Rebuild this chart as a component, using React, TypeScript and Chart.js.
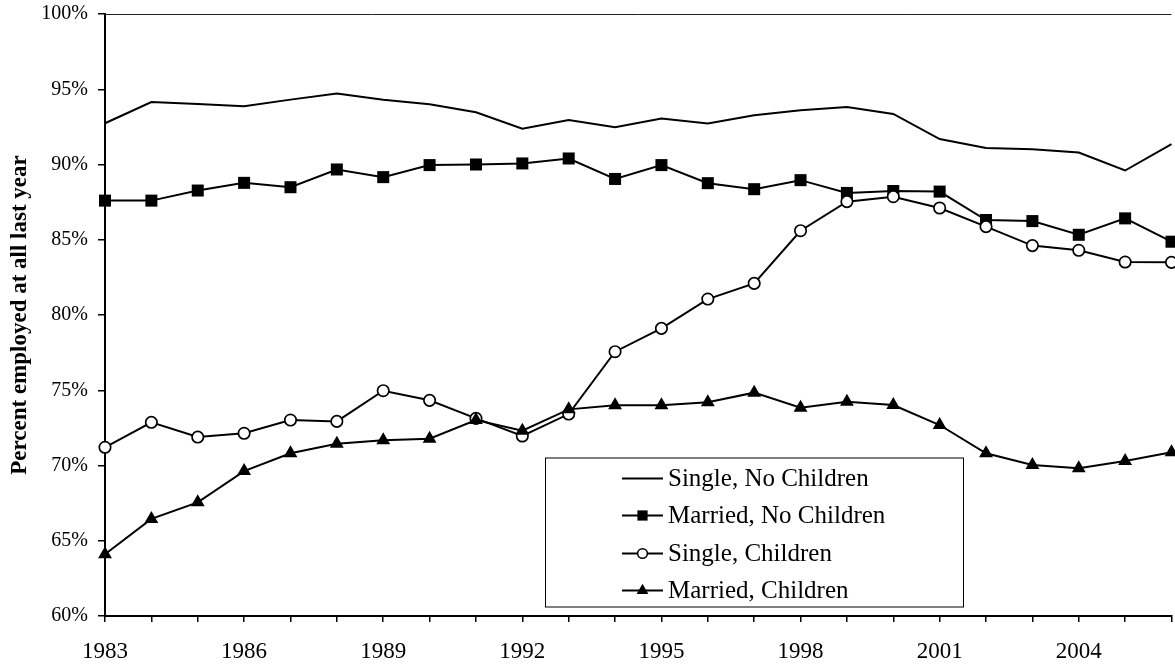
import React, { useEffect, useRef } from 'react';
import { Chart, registerables } from 'chart.js';

Chart.register(...registerables);

const years = [1983, 1984, 1985, 1986, 1987, 1988, 1989, 1990, 1991, 1992, 1993, 1994, 1995, 1996, 1997, 1998, 1999, 2000, 2001, 2002, 2003, 2004, 2005, 2006];

const singleNoChildren = [92.74, 94.15, 94.02, 93.87, 94.31, 94.71, 94.31, 94.0, 93.47, 92.38, 92.95, 92.47, 93.05, 92.73, 93.27, 93.6, 93.82, 93.36, 91.69, 91.09, 91.02, 90.8, 89.6, 91.35];
const marriedNoChildren = [87.6, 87.6, 88.27, 88.78, 88.49, 89.67, 89.16, 89.96, 90.0, 90.07, 90.4, 89.04, 89.96, 88.76, 88.36, 88.96, 88.11, 88.24, 88.2, 86.31, 86.24, 85.33, 86.42, 84.87];
const singleChildren = [71.21, 72.87, 71.89, 72.14, 73.02, 72.93, 74.97, 74.33, 73.13, 71.96, 73.42, 77.56, 79.11, 81.06, 82.1, 85.6, 87.53, 87.86, 87.11, 85.87, 84.61, 84.3, 83.52, 83.5];
const marriedChildren = [64.1, 66.45, 67.55, 69.63, 70.81, 71.45, 71.67, 71.78, 73.02, 72.31, 73.73, 74.0, 74.0, 74.2, 74.84, 73.84, 74.24, 74.02, 72.69, 70.81, 70.03, 69.81, 70.3, 70.88];

const seriesLabels = ['Single, No Children', 'Married, No Children', 'Single, Children', 'Married, Children'];
const yAxisTitle = 'Percent employed at all last year';
const xMin = 1983;
const xMax = 2006;
const xLabelStep = 3;
const yMin = 60;
const yMax = 100;
const yStep = 5;

const SERIF = '"Liberation Serif", "Times New Roman", Times, serif';
const LINE_W = 2;

type Marker = { style: string; radius: number; fill: string };
const markers: Marker[] = [
  { style: 'none', radius: 0, fill: '#000' },
  { style: 'rect', radius: 8.5, fill: '#000' },
  { style: 'circle', radius: 5.7, fill: '#fff' },
  { style: 'triangle', radius: 8, fill: '#000' },
];

function drawMarker(ctx: CanvasRenderingContext2D, m: Marker, x: number, y: number, scale: number) {
  const r = m.radius * scale;
  if (m.style === 'none') return;
  ctx.save();
  ctx.fillStyle = m.fill;
  ctx.strokeStyle = '#000';
  ctx.lineWidth = 1.5;
  ctx.beginPath();
  if (m.style === 'rect') {
    const s = r * Math.SQRT1_2;
    ctx.rect(x - s, y - s, 2 * s, 2 * s);
    ctx.fill();
  } else if (m.style === 'circle') {
    ctx.arc(x, y, r, 0, Math.PI * 2);
    ctx.fill();
    ctx.stroke();
  } else if (m.style === 'triangle') {
    let rad = 0;
    ctx.moveTo(x + Math.sin(rad) * r, y - Math.cos(rad) * r);
    rad += (2 * Math.PI) / 3;
    ctx.lineTo(x + Math.sin(rad) * r, y - Math.cos(rad) * r);
    rad += (2 * Math.PI) / 3;
    ctx.lineTo(x + Math.sin(rad) * r, y - Math.cos(rad) * r);
    ctx.closePath();
    ctx.fill();
  }
  ctx.restore();
}

const frameAndLegend = {
  id: 'frameAndLegend',
  beforeDatasetsDraw(chart: any) {
    const { ctx, chartArea } = chart;
    ctx.save();
    ctx.strokeStyle = '#222';
    ctx.lineWidth = 1;
    ctx.beginPath();
    ctx.moveTo(chartArea.left, chartArea.top + 0.5);
    ctx.lineTo(chartArea.right, chartArea.top + 0.5);
    ctx.stroke();
    ctx.restore();
  },
  afterDraw(chart: any) {
    const { ctx, chartArea } = chart;
    const bx = chartArea.left + 440;
    const by = chartArea.top + 443.5;
    const bw = 418;
    const bh = 149;
    ctx.save();
    ctx.fillStyle = '#fff';
    ctx.fillRect(bx, by, bw, bh);
    ctx.strokeStyle = '#000';
    ctx.lineWidth = 1;
    ctx.strokeRect(bx + 0.5, by + 0.5, bw, bh);
    ctx.font = `25px ${SERIF}`;
    ctx.textBaseline = 'middle';
    ctx.textAlign = 'left';
    const rowY = [21, 58, 96, 133];
    chart.data.datasets.forEach((ds: any, i: number) => {
      const y = by + rowY[i];
      const x0 = bx + 77;
      const x1 = bx + 118;
      ctx.strokeStyle = '#000';
      ctx.lineWidth = LINE_W;
      ctx.beginPath();
      ctx.moveTo(x0, y);
      ctx.lineTo(x1, y);
      ctx.stroke();
      drawMarker(ctx, markers[i], (x0 + x1) / 2, y, 0.85);
      ctx.fillStyle = '#000';
      ctx.fillText(ds.label, bx + 123, y + 1);
    });
    ctx.restore();
  },
};

function toPoints(values: number[]) {
  return years.map((yr, i) => ({ x: yr, y: values[i] }));
}

export default function App() {
  const ref = useRef<HTMLCanvasElement>(null);

  useEffect(() => {
    document.body.style.margin = '0';
    const canvas = ref.current;
    if (!canvas) return;
    const seriesValues = [singleNoChildren, marriedNoChildren, singleChildren, marriedChildren];
    const datasets = seriesValues.map((vals, i) => {
      const m = markers[i];
      return {
        label: seriesLabels[i],
        data: toPoints(vals),
        borderColor: '#000',
        borderWidth: LINE_W,
        tension: 0,
        clip: false as any,
        order: 3 - i,
        pointStyle: m.style === 'none' ? 'circle' : m.style,
        pointRadius: m.style === 'none' ? 0 : m.radius,
        pointHoverRadius: m.style === 'none' ? 0 : m.radius,
        pointBackgroundColor: m.fill,
        pointBorderColor: '#000',
        pointBorderWidth: m.style === 'circle' ? 1.7 : 0,
      };
    });

    const chart = new Chart(canvas, {
      type: 'line',
      data: { datasets },
      options: {
        animation: false,
        responsive: false,
        devicePixelRatio: 1,
        events: [],
        layout: { padding: { left: 0, right: 4, top: 14, bottom: 0 } },
        plugins: {
          legend: { display: false },
          tooltip: { enabled: false },
        },
        scales: {
          x: {
            type: 'linear',
            min: xMin,
            max: xMax,
            border: { display: true, color: '#000', width: 2 },
            grid: { display: true, drawOnChartArea: false, color: '#000', tickLength: 6, lineWidth: 1.5 },
            ticks: {
              stepSize: 1,
              autoSkip: false,
              maxRotation: 0,
              color: '#000',
              padding: 16,
              font: { family: SERIF, size: 23 },
              callback: (v: any) => ((Number(v) - xMin) % xLabelStep === 0 ? String(v) : ''),
            },
            afterFit: (s: any) => {
              s.height = 48;
              s.paddingLeft = 0;
              s.paddingRight = 0;
            },
          },
          y: {
            type: 'linear',
            min: yMin,
            max: yMax,
            border: { display: true, color: '#000', width: 2 },
            grid: { display: true, drawOnChartArea: false, color: '#000', tickLength: 7, lineWidth: 1.5 },
            ticks: {
              stepSize: yStep,
              color: '#000',
              padding: 10,
              font: { family: SERIF, size: 20 },
              callback: (v: any) => `${v}%`,
            },
            title: {
              display: true,
              text: yAxisTitle,
              color: '#000',
              font: { family: SERIF, size: 23, weight: 'bold' },
              padding: { top: 6, bottom: 0 },
            },
            afterFit: (s: any) => {
              s.width = 105;
              s.paddingTop = 0;
              s.paddingBottom = 0;
            },
          },
        },
      },
      plugins: [frameAndLegend],
    });
    return () => chart.destroy();
  }, []);

  return (
    <div style={{ position: 'fixed', left: 0, top: 0, width: 1175, height: 664, overflow: 'hidden', background: '#fff' }}>
      <canvas ref={ref} width={1180} height={664} style={{ display: 'block' }} />
    </div>
  );
}
